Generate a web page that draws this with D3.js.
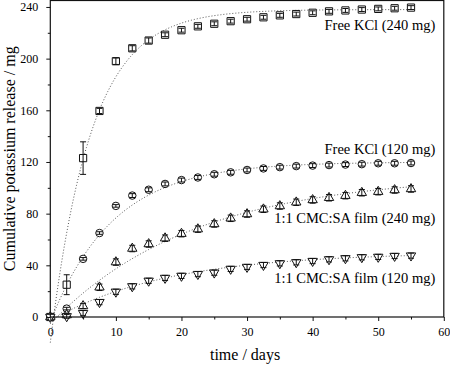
<!DOCTYPE html>
<html><head><meta charset="utf-8">
<script src="https://cdn.jsdelivr.net/npm/d3@7"></script>
<style>body{margin:0;background:#fff} svg{display:block}</style>
</head><body><svg id="c" width="450" height="366"></svg>
<script>
// ---- data ----
const days = [0, 2.5, 5, 7.5, 10, 12.5, 15, 17.5, 20, 22.5, 25, 27.5, 30, 32.5, 35, 37.5, 40, 42.5, 45, 47.5, 50, 52.5, 55];
const seriesNames = ["Free KCl (240 mg)", "Free KCl (120 mg)", "1:1 CMC:SA film (240 mg)", "1:1 CMC:SA film (120 mg)"];
const freeKCl240 = [0, 25, 123, 159.5, 198, 208, 214, 218.5, 222, 225, 227, 229, 230.5, 232, 233.5, 234.5, 235.5, 236.6, 237.3, 238, 238.5, 239, 239.5];
const freeKCl240Err = [0, 7.7, 12.6, 2, 2.5, 2, 2, 1.5, 1.5, 1.5, 1.5, 1.5, 1.5, 1.5, 1.5, 1.5, 1.5, 1.5, 1.5, 1.5, 1.5, 1.5, 1.5];
const freeKCl120 = [0, 6.5, 45, 65, 86, 94, 98.5, 103, 106, 108, 110.5, 112, 113.8, 115, 116, 116.8, 117.2, 117.6, 118, 118.3, 119, 119, 119.2];
const freeKCl120Err = [0, 1, 1, 1, 1, 1.5, 1.5, 1.5, 1.5, 1.5, 1.5, 1.5, 1.5, 1.5, 1.5, 1.5, 1.5, 1.5, 1.5, 1.5, 1.5, 1.5, 1.5];
const film240 = [0, 1.5, 8.5, 23, 42.5, 53, 56.5, 61, 64.5, 68, 72, 76.4, 79.7, 83.4, 85.9, 88.8, 90.6, 92.3, 93.9, 96.2, 97, 98.3, 99.1];
const film240Err = [0, 1.5, 2, 2.5, 2.5, 2.5, 2.5, 2.5, 2.5, 2.5, 2.5, 2.5, 2.5, 2.5, 2.5, 2.5, 2.5, 2.5, 2.5, 2.5, 2.5, 2.5, 2.5];
const film120 = [0, 0.5, 3, 11.5, 19.5, 23.7, 28, 30.2, 31.8, 33.2, 34.3, 37.2, 38.7, 40.2, 41.5, 42.3, 43.3, 44.6, 45.4, 46.2, 46.5, 47.2, 47.5];
const film120Err = [0, 1.5, 2, 2, 2, 2, 2, 2, 2, 2, 2, 2, 2, 2, 2, 2, 2, 2, 2, 2, 2, 2, 2];
// first-order release fit parameters: A*(1-exp(-k*(t-t0)))
const fitAsymptote = [238, 120, 110, 50];
const fitRate = [0.16, 0.105, 0.046, 0.056];
const fitLag = [0.5, 0.3, 1, 1];
const xTicks = [0, 10, 20, 30, 40, 50, 60];
const xMinorTicks = [5, 15, 25, 35, 45, 55];
const yTicks = [0, 40, 80, 120, 160, 200, 240];
const yMinorTicks = [20, 60, 100, 140, 180, 220];

// ---- drawing ----
const svg = d3.select("#c");
const FONT = "'Liberation Serif','Times New Roman',serif";
const x = d3.scaleLinear().domain([0, 60]).range([50.3, 443.8]);
const y = d3.scaleLinear().domain([0, 245]).range([317, 0.5]);

const values = [freeKCl240, freeKCl120, film240, film120];
const errs = [freeKCl240Err, freeKCl120Err, film240Err, film120Err];
const symbols = [d3.symbolSquare, d3.symbolCircle, d3.symbolTriangle, d3.symbolTriangle];
const symSize = [52, 44, 38, 38];
const rot = [0, 0, 0, 180];

// fit curves (drawn first, dotted grey)
const line = d3.line().x(d => x(d[0])).y(d => y(d[1]));
values.forEach((_, i) => {
  const pts = d3.range(0, 55.001, 0.25).map(t => [t, fitAsymptote[i] * (1 - Math.exp(-fitRate[i] * (t - fitLag[i])))]);
  svg.append("path").attr("d", line(pts)).attr("fill", "none")
    .attr("stroke", "#555").attr("stroke-width", 1).attr("stroke-dasharray", "1,2");
});

// markers + error bars
values.forEach((vals, i) => {
  const g = svg.append("g");
  const sym = d3.symbol().type(symbols[i]).size(symSize[i]);
  days.forEach((t, j) => {
    const cx = x(t), cy = y(vals[j]);
    g.append("path").attr("d", sym())
      .attr("transform", `translate(${cx},${cy}) rotate(${rot[i]})`)
      .attr("fill", "#fff").attr("stroke", "#111").attr("stroke-width", 1);
  });
  days.forEach((t, j) => {
    const e = errs[i][j];
    if (!e) return;
    const cx = x(t), y1 = y(vals[j] + e), y2 = y(vals[j] - e);
    g.append("line").attr("x1", cx).attr("x2", cx).attr("y1", y1).attr("y2", y2)
      .attr("stroke", "#111").attr("stroke-width", 1);
    [y1, y2].forEach(yy => g.append("line").attr("x1", cx - 3).attr("x2", cx + 3)
      .attr("y1", yy).attr("y2", yy).attr("stroke", "#111").attr("stroke-width", 1));
  });
});

// frame
svg.append("rect").attr("x", x(0)).attr("y", y(245)).attr("width", x(60) - x(0)).attr("height", y(0) - y(245))
  .attr("fill", "none").attr("stroke", "#111").attr("stroke-width", 1.2);

// axes
svg.append("g").attr("transform", `translate(0,${y(0)})`)
  .call(d3.axisBottom(x).tickValues(xTicks).tickSize(4).tickPadding(6).tickFormat(d3.format("d")));
svg.append("g").attr("transform", `translate(0,${y(0)})`)
  .call(d3.axisBottom(x).tickValues(xMinorTicks).tickSize(2.5).tickFormat(""));
svg.append("g").attr("transform", `translate(${x(0)},0)`)
  .call(d3.axisLeft(y).tickValues(yTicks).tickSize(4).tickPadding(8).tickFormat(d3.format("d")));
svg.append("g").attr("transform", `translate(${x(0)},0)`)
  .call(d3.axisLeft(y).tickValues(yMinorTicks).tickSize(2.5).tickFormat(""));
svg.selectAll(".domain").remove();
svg.selectAll(".tick line").attr("stroke", "#111");
svg.selectAll(".tick text").attr("font-family", FONT).attr("font-size", 12).attr("fill", "#000");

// axis titles
svg.append("text").attr("x", (x(0) + x(60)) / 2 - 2).attr("y", 360)
  .attr("text-anchor", "middle").attr("font-family", FONT).attr("font-size", 16).attr("fill", "#000")
  .text("time / days");
svg.append("text").attr("transform", `translate(15,${(y(0) + y(245)) / 2}) rotate(-90)`)
  .attr("text-anchor", "middle").attr("font-family", FONT).attr("font-size", 16).attr("fill", "#000")
  .text("Cumulative potassium release / mg");

// series labels
const labelY = [222.5, 126.2, 72.8, 26.3];
seriesNames.forEach((n, i) => {
  svg.append("text").attr("x", x(58.7)).attr("y", y(labelY[i]))
    .attr("text-anchor", "end").attr("font-family", FONT).attr("font-size", 14.5).attr("fill", "#000")
    .text(n);
});
</script></body></html>
